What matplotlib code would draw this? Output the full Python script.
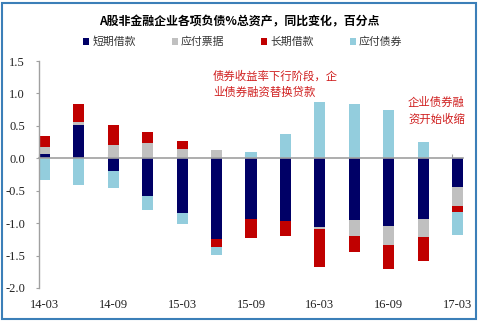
import matplotlib
matplotlib.use("Agg")
import matplotlib.pyplot as plt
import numpy as np
from matplotlib.patches import Patch, Rectangle

# ---- data ----
dates = ['14-03', '14-06', '14-09', '14-12', '15-03', '15-06', '15-09',
         '15-12', '16-03', '16-06', '16-09', '16-12', '17-03']
short_loans = [0.07, 0.51, -0.19, -0.58, -0.84, -1.24, -0.94, -0.96, -1.06, -0.95, -1.05, -0.93, -0.44]
notes_payable = [0.11, 0.05, 0.21, 0.23, 0.15, 0.13, 0.00, 0.00, -0.03, -0.25, -0.28, -0.29, -0.30]
long_loans = [0.16, 0.27, 0.30, 0.18, 0.12, -0.13, -0.29, -0.24, -0.58, -0.24, -0.37, -0.37, -0.09]
bonds_payable = [-0.33, -0.41, -0.27, -0.21, -0.17, -0.12, 0.10, 0.37, 0.87, 0.84, 0.75, 0.25, -0.35]
series_names = ['短期借款', '应付票据', '长期借款', '应付债券']
series_colors = ['#000066', '#c0c0c0', '#c00000', '#93cddd']
yticks = [-2.0, -1.5, -1.0, -0.5, 0.0, 0.5, 1.0, 1.5]

plt.rcParams['font.family'] = ['Noto Sans CJK SC', 'DejaVu Sans']

W, H = 482, 326
fig = plt.figure(figsize=(W / 100, H / 100), dpi=100)
ax = fig.add_axes([39 / W, 38 / H, (463 - 39) / W, (288 - 61) / H])

x = np.arange(len(dates))
pos_bottom = np.zeros(len(dates))
neg_bottom = np.zeros(len(dates))
bw = 0.32
for vals, c in zip([short_loans, notes_payable, long_loans, bonds_payable], series_colors):
    v = np.array(vals)
    bottoms = np.where(v >= 0, pos_bottom, neg_bottom)
    ax.bar(x, v, bottom=bottoms, width=bw, color=c, linewidth=0, zorder=2)
    pos_bottom += np.where(v >= 0, v, 0)
    neg_bottom += np.where(v < 0, v, 0)

ax.set_xlim(-0.16, len(dates) - 1 + 0.16)
ax.set_ylim(-2.0, 1.5)

for s in ['top', 'right']:
    ax.spines[s].set_visible(False)
ax.spines['left'].set_color('#a0a0a0')
ax.spines['left'].set_linewidth(1.0)
ax.spines['bottom'].set_position(('data', 0))
ax.spines['bottom'].set_color('#a0a0a0')
ax.spines['bottom'].set_linewidth(1.2)
ax.spines['bottom'].set_zorder(3)

# ticks on zero line (pointing up), no labels
ax.set_xticks(x[::2] - 0.16)
ax.tick_params(axis='x', direction='in', length=3, color='#a0a0a0', labelbottom=False)

# labels at bottom
sec = ax.secondary_xaxis('bottom')
sec.set_xticks(x[::2])
sec.set_xticklabels(dates[::2], fontfamily='Liberation Serif', fontsize=9, color='#222222')
sec.tick_params(length=0, pad=8)
sec.spines['bottom'].set_visible(False)

ax.set_yticks(yticks)
ax.set_yticklabels([f'{v:.1f}' for v in yticks], fontfamily='Liberation Serif', fontsize=9, color='#222222')
ax.tick_params(axis='y', direction='out', length=2, color='#a0a0a0', pad=8)

# title
fig.text(239 / W, 1 - 22 / H, 'A股非金融企业各项负债%总资产，同比变化，百分点',
         ha='center', va='center', fontsize=8.6, fontweight='bold', color='#000000')

# legend
handles = [Patch(facecolor=c, edgecolor='none') for c in series_colors]
fig.legend(handles, series_names, loc='center', bbox_to_anchor=(243 / W, 1 - 42 / H),
           ncol=4, frameon=False, fontsize=7.8, handlelength=0.55, handleheight=0.55,
           handletextpad=0.25, columnspacing=3.4, labelcolor='#333333')

# annotations
fig.text(213 / W, 1 - 84 / H, '债券收益率下行阶段，企\n业债券融资替换贷款', ha='left', va='center',
         fontsize=8.2, color='#d02020', linespacing=1.55)
fig.text(408 / W, 1 - 111 / H, '企业债券融\n资开始收缩', ha='left', va='center',
         fontsize=8.2, color='#d02020', linespacing=1.55)

# frame
fig.patches.append(Rectangle((2 / W, 7 / H), 474 / W, 316 / H, transform=fig.transFigure,
                             fill=False, edgecolor='#3b7fb8', linewidth=1.5))

fig.savefig('out.png', dpi=100)
